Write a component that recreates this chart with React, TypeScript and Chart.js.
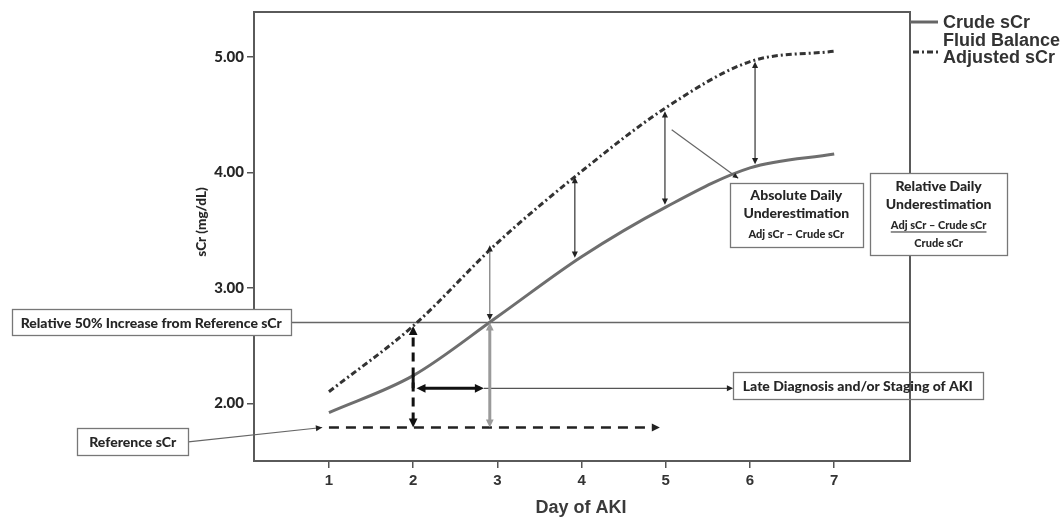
import React, { useEffect, useRef } from "react";
import { Chart, registerables } from "chart.js";

Chart.register(...registerables);

// ---- data ----
const days = [1, 2, 3, 4, 5, 6, 7];
const crudeScr = [1.92, 2.24, 2.75, 3.27, 3.7, 4.04, 4.16];
const adjustedScr = [2.1, 2.67, 3.39, 4.01, 4.56, 4.96, 5.05];
const yTickValues = [2, 3, 4, 5];
const xTickValues = [1, 2, 3, 4, 5, 6, 7];
const referenceScr = 1.79;
const thresholdScr = 2.7; // 50% increase from reference
const referenceLineEndDay = 4.93;
const crudeDiagnosisDay = 2.91;
const adjustedDiagnosisDay = 2;
const lateArrowScr = 2.13;
const lateArrowDays = [2.04, 2.84];
const underArrowDays = [2.91, 3.92, 4.99, 6.06];
const underArrowTop = [3.37, 3.96, 4.53, 4.96];
const underArrowBottom = [2.72, 3.26, 3.72, 4.07];

const BOX_FONT = "Lato, 'Liberation Sans', sans-serif";
const TXT = "#262626";

function arrowHead(ctx: CanvasRenderingContext2D, x1: number, y1: number, x2: number, y2: number, size: number, color: string) {
  const a = Math.atan2(y2 - y1, x2 - x1);
  ctx.save();
  ctx.fillStyle = color;
  ctx.beginPath();
  ctx.moveTo(x2, y2);
  ctx.lineTo(x2 - size * Math.cos(a - 0.45), y2 - size * Math.sin(a - 0.45));
  ctx.lineTo(x2 - size * Math.cos(a + 0.45), y2 - size * Math.sin(a + 0.45));
  ctx.closePath();
  ctx.fill();
  ctx.restore();
}

function line(ctx: CanvasRenderingContext2D, x1: number, y1: number, x2: number, y2: number, color: string, width: number, dash: number[] = []) {
  ctx.save();
  ctx.strokeStyle = color;
  ctx.lineWidth = width;
  ctx.setLineDash(dash);
  ctx.beginPath();
  ctx.moveTo(x1, y1);
  ctx.lineTo(x2, y2);
  ctx.stroke();
  ctx.restore();
}

function box(ctx: CanvasRenderingContext2D, cx: number, cy: number, w: number, h: number, fill: boolean) {
  ctx.save();
  const x = Math.round(cx - w / 2) + 0.5;
  const y = Math.round(cy - h / 2) + 0.5;
  if (fill) {
    ctx.fillStyle = "#fff";
    ctx.fillRect(x, y, w, h);
  }
  ctx.strokeStyle = "#777";
  ctx.lineWidth = 1.3;
  ctx.strokeRect(x, y, w, h);
  ctx.restore();
}

function text(ctx: CanvasRenderingContext2D, s: string, x: number, y: number, font: string, align: CanvasTextAlign = "center", color = TXT) {
  ctx.save();
  ctx.font = font;
  ctx.fillStyle = color;
  ctx.textAlign = align;
  ctx.textBaseline = "middle";
  ctx.fillText(s, x, y);
  ctx.restore();
}

const borderPlugin = {
  id: "frame",
  beforeDatasetsDraw(chart: any) {
    const { ctx, chartArea: a } = chart;
    ctx.save();
    ctx.strokeStyle = "#5a5a5a";
    ctx.lineWidth = 2;
    ctx.strokeRect(a.left, a.top, a.right - a.left, a.bottom - a.top);
    ctx.restore();
    const X = (d: number) => chart.scales.x.getPixelForValue(d);
    const Y = (v: number) => chart.scales.y.getPixelForValue(v);
    // threshold line
    line(ctx, X(0.55), Y(thresholdScr), a.right, Y(thresholdScr), "#666", 1.3);
  },
  afterDatasetsDraw(chart: any) {
    const { ctx } = chart;
    const X = (d: number) => chart.scales.x.getPixelForValue(d);
    const Y = (v: number) => chart.scales.y.getPixelForValue(v);

    // reference dashed line
    const ry = Y(referenceScr);
    line(ctx, X(1), ry, X(referenceLineEndDay) - 4, ry, "#222", 2.5, [10, 7]);
    arrowHead(ctx, X(1), ry, X(referenceLineEndDay), ry, 9, "#222");

    // late diagnosis connector
    const ly = Y(lateArrowScr);
    line(ctx, X(lateArrowDays[1]), ly, X(5.8) - 3, ly, "#555", 1.2);
    arrowHead(ctx, X(5.0), ly, X(5.8), ly, 7, "#222");

    // under-estimation thin arrows
    underArrowDays.forEach((d, i) => {
      const x = X(d);
      const c = i === 0 ? "#777" : "#333";
      line(ctx, x, Y(underArrowTop[i]) + 3, x, Y(underArrowBottom[i]) - 3, c, 1.2);
      arrowHead(ctx, x, Y(underArrowBottom[i]), x, Y(underArrowTop[i]), 7, "#222");
      arrowHead(ctx, x, Y(underArrowTop[i]), x, Y(underArrowBottom[i]), 7, "#222");
    });

    // gray thick crude diagnosis arrow
    const gx = X(crudeDiagnosisDay);
    line(ctx, gx, ry - 5, gx, Y(thresholdScr) + 5, "#9a9a9a", 3);
    arrowHead(ctx, gx, Y(thresholdScr), gx, ry, 9, "#9a9a9a");
    arrowHead(ctx, gx, ry, gx, Y(thresholdScr), 9, "#9a9a9a");

    // black dashed adjusted diagnosis arrow
    const bx = X(adjustedDiagnosisDay);
    line(ctx, bx, ry - 6, bx, Y(adjustedScr[1]) + 6, "#111", 3, [9, 6]);
    line(ctx, bx, Y(crudeScr[1]), bx, ly, "#111", 3);
    arrowHead(ctx, bx, Y(adjustedScr[1]), bx, ry, 10, "#111");
    arrowHead(ctx, bx, ry, bx, Y(adjustedScr[1]), 10, "#111");

    // black horizontal late arrow
    line(ctx, X(lateArrowDays[0]) + 4, ly, X(lateArrowDays[1]) - 4, ly, "#111", 3);
    arrowHead(ctx, X(lateArrowDays[1]), ly, X(lateArrowDays[0]), ly, 10, "#111");
    arrowHead(ctx, X(lateArrowDays[0]), ly, X(lateArrowDays[1]), ly, 10, "#111");

    // pointer from absolute box to crude line
    line(ctx, X(5.07), Y(4.37), X(5.86), Y(3.95), "#666", 1.2);
    arrowHead(ctx, X(5.07), Y(4.37), X(5.86), Y(3.95), 6, "#222");

    // reference box pointer
    line(ctx, X(-0.67), Y(1.665), X(0.92), ry, "#666", 1.2);
    arrowHead(ctx, X(-0.67), Y(1.665), X(0.92), ry, 7, "#222");
  },
  afterDraw(chart: any) {
    const { ctx } = chart;
    const X = (d: number) => chart.scales.x.getPixelForValue(d);
    const Y = (v: number) => chart.scales.y.getPixelForValue(v);
    const b13 = `900 14px ${BOX_FONT}`;
    const b10 = `900 11px ${BOX_FONT}`;

    // 50% box
    {
      const cx = X(-1.11), cy = Y(thresholdScr);
      box(ctx, cx, cy, 279, 26, true);
      text(ctx, "Relative 50% Increase from Reference sCr", cx, cy + 1, b13);
    }
    // reference box
    {
      const cx = X(-1.33), cy = Y(1.67);
      box(ctx, cx, cy, 111, 27, true);
      text(ctx, "Reference sCr", cx, cy + 1, b13);
    }
    // late diagnosis box
    {
      const cx = X(7.28), cy = Y(2.155);
      box(ctx, cx, cy, 250, 27, false);
      text(ctx, "Late Diagnosis and/or Staging of AKI", cx, cy + 1, b13);
    }
    // absolute box
    {
      const cx = X(6.55), cy = Y(3.63);
      box(ctx, cx, cy, 133, 64, true);
      text(ctx, "Absolute Daily", cx, cy - 20, b13);
      text(ctx, "Underestimation", cx, cy - 2, b13);
      text(ctx, "Adj sCr \u2013 Crude sCr", cx, cy + 19, b10);
    }
    // relative box
    {
      const cx = X(8.24), cy = Y(3.64);
      box(ctx, cx, cy, 137, 82, true);
      text(ctx, "Relative Daily", cx, cy - 28, b13);
      text(ctx, "Underestimation", cx, cy - 10, b13);
      const s = "Adj sCr \u2013 Crude sCr";
      text(ctx, s, cx, cy + 11, b10);
      ctx.save();
      ctx.font = b10;
      const w = ctx.measureText(s).width;
      ctx.restore();
      line(ctx, cx - w / 2, cy + 18, cx + w / 2, cy + 18, TXT, 1);
      text(ctx, "Crude sCr", cx, cy + 29, b10);
    }

    // legend
    const a = chart.chartArea;
    const lf = "bold 18px 'Liberation Sans', Arial, sans-serif";
    line(ctx, a.right, 22, a.right + 28, 22, "#666", 3);
    text(ctx, "Crude sCr", a.right + 33, 23, lf, "left", "#333");
    line(ctx, a.right + 3, 52, a.right + 28, 52, "#333", 3, [6, 3, 2, 3]);
    text(ctx, "Fluid Balance", a.right + 33, 41, lf, "left", "#333");
    text(ctx, "Adjusted sCr", a.right + 33, 58, lf, "left", "#333");

    // axis titles
    text(ctx, "Day of AKI", (a.left + a.right) / 2 - 1, 508, "bold 18px 'Liberation Sans', Arial, sans-serif", "center", "#3a3a3a");
    ctx.save();
    ctx.translate(202, 222);
    ctx.rotate(-Math.PI / 2);
    text(ctx, "sCr (mg/dL)", 0, 0, `900 13.5px ${BOX_FONT}`, "center", "#262626");
    ctx.restore();
  },
};

export default function App() {
  const ref = useRef<HTMLCanvasElement>(null);
  useEffect(() => {
    if (!ref.current) return;
    const chart = new Chart(ref.current, {
      type: "line",
      data: {
        datasets: [
          {
            label: "Crude sCr",
            data: days.map((d, i) => ({ x: d, y: crudeScr[i] })),
            borderColor: "#6e6e6e",
            borderWidth: 3,
            pointRadius: 0,
            cubicInterpolationMode: "monotone",
          },
          {
            label: "Fluid Balance Adjusted sCr",
            data: days.map((d, i) => ({ x: d, y: adjustedScr[i] })),
            borderColor: "#333",
            borderWidth: 3,
            borderDash: [6, 3, 2, 3],
            pointRadius: 0,
            cubicInterpolationMode: "monotone",
          },
        ],
      },
      options: {
        responsive: false,
        animation: false,
        devicePixelRatio: 1,
        layout: { padding: { top: 12, right: 152, left: 0, bottom: 0 } },
        plugins: { legend: { display: false }, tooltip: { enabled: false } },
        scales: {
          x: {
            type: "linear",
            min: 0.11,
            max: 7.9,
            afterBuildTicks: (s: any) => {
              s.ticks = xTickValues.map((v) => ({ value: v }));
            },
            afterFit: (s: any) => {
              s.height = 57;
            },
            grid: { drawOnChartArea: false, tickLength: 7, color: "#555", lineWidth: 1.5 },
            border: { display: false },
            ticks: {
              font: { family: "'Liberation Sans', Arial", weight: "bold", size: 15 },
              color: "#333",
              padding: 4,
              callback: (v: any) => String(v),
            },
          },
          y: {
            type: "linear",
            min: 1.5,
            max: 5.39,
            afterBuildTicks: (s: any) => {
              s.ticks = yTickValues.map((v) => ({ value: v }));
            },
            afterFit: (s: any) => {
              s.width = 254;
            },
            grid: { drawOnChartArea: false, tickLength: 7, color: "#555", lineWidth: 1.5 },
            border: { display: false },
            ticks: {
              font: { family: BOX_FONT, weight: "900", size: 15 },
              color: "#262626",
              padding: 3,
              callback: (v: any) => Number(v).toFixed(2),
            },
          },
        },
      },
      plugins: [borderPlugin],
    } as any);
    return () => chart.destroy();
  }, []);
  return (
    <div style={{ position: "absolute", left: 0, top: 0, width: 1062, height: 518, background: "#fff" }}>
      <canvas ref={ref} width={1062} height={518} style={{ width: 1062, height: 518, display: "block" }} />
    </div>
  );
}
